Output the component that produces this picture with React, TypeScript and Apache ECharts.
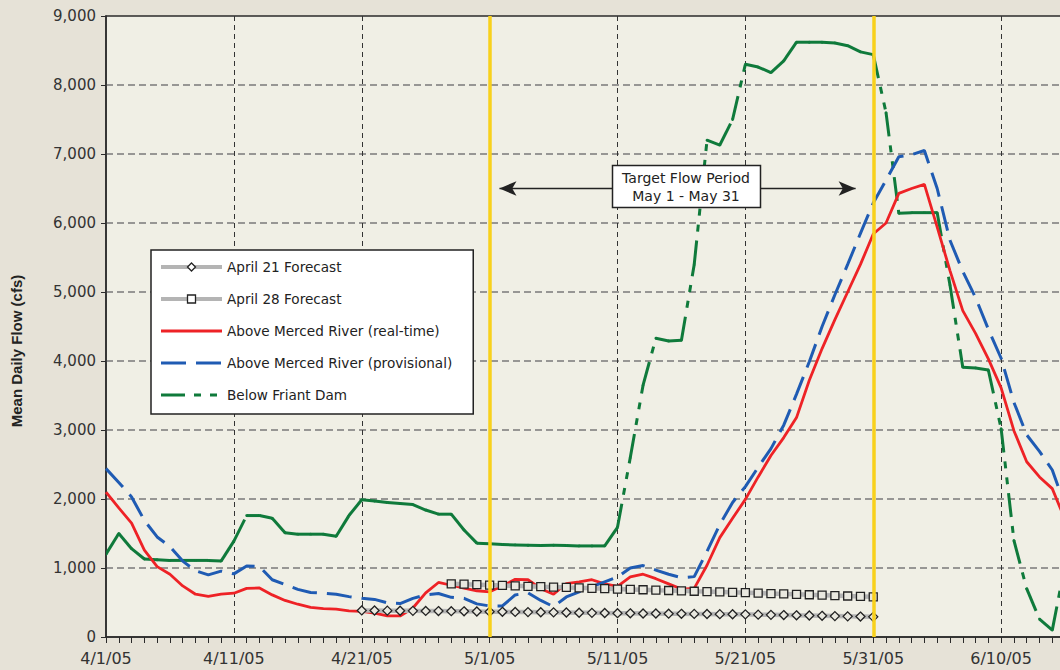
import React, { useEffect, useRef } from 'react';
import * as echarts from 'echarts';

// x positions are days after 4/1/05
const tickLabels = ['4/1/05', '4/11/05', '4/21/05', '5/1/05', '5/11/05', '5/21/05', '5/31/05', '6/10/05'];

const realTime = [
  2100, 1870, 1650, 1260, 1020, 910, 740, 620, 590, 620,
  635, 705, 710, 610, 530, 475, 430, 410, 405, 378,
  370, 345, 305, 305, 420, 640, 790, 750, 710, 670,
  655, 740, 836, 830, 700, 620, 775, 800, 830, 770,
  735, 870, 910, 845, 770, 695, 705, 1040, 1440, 1720,
  1995, 2320, 2630, 2890, 3180, 3720, 4180, 4600, 5000, 5400,
  5840, 6000, 6430, 6500, 6560, 5940, 5310, 4730, 4400, 4030,
  3610, 2990, 2540, 2320, 2150, 1700,
];

const provisional = [
  2440, 2240, 2030, 1690, 1450, 1310, 1100, 960, 900, 955,
  915, 1030, 1020, 830, 760, 690, 645, 635, 620, 585,
  560, 545, 495, 485, 560, 610, 630, 575, 560, 480,
  450, 450, 610, 640, 530, 440, 580, 655, 730, 800,
  870, 1000, 1035, 970, 910, 860, 875, 1240, 1630, 1950,
  2180, 2460, 2730, 3070, 3520, 3990, 4500, 4960, 5400, 5850,
  6290, 6620, 6960, 6990, 7050, 6500, 5750, 5300, 4920, 4460,
  4040, 3400, 2930, 2690, 2420, 1900,
];

const friant = [
  1200, 1500, 1280, 1130, 1120, 1110, 1110, 1110, 1110, 1100,
  1390, 1760, 1760, 1720, 1510, 1490, 1490, 1490, 1460, 1760,
  1990, 1970, 1950, 1935, 1920, 1840, 1780, 1780, 1550, 1360,
  1350, 1340, 1335, 1330, 1325, 1330, 1325, 1320, 1320, 1320,
  1590, 2600, 3650, 4330, 4290, 4300, 5400, 7200, 7130, 7500,
  8300, 8260, 8180, 8350, 8620, 8620, 8620, 8610, 8570, 8480,
  8440, 7600, 6140, 6150, 6150, 6150, 5100, 3910, 3900, 3870,
  3020, 1400, 700, 260, 100, 1050,
];

const april21Start = 20;
const april21 = [
  385, 384, 382, 381, 379, 378, 376, 374, 372, 370,
  367, 365, 363, 361, 359, 357, 355, 352, 350, 348,
  345, 343, 341, 340, 338, 336, 335, 333, 331, 330,
  328, 324, 321, 318, 314, 311, 307, 303, 299, 296, 292,
];

const april28Start = 27;
const april28 = [
  770, 765, 759, 753, 747, 741, 735, 729, 724, 718,
  712, 706, 701, 695, 690, 685, 679, 674, 669, 663,
  658, 653, 647, 642, 636, 630, 624, 618, 612, 606,
  600, 594, 588, 582,
];

const targetStart = 30; // 5/1/05
const targetEnd = 60; // 5/31/05
const targetArrowLevel = 6500;

const names = [
  'April 21 Forecast',
  'April 28 Forecast',
  'Above Merced River (real-time)',
  'Above Merced River (provisional)',
  'Below Friant Dam',
];

const RED = '#ee2226';
const BLUE = '#1f5bb3';
const GREEN = '#0f7a3b';
const GRAY = '#b4b4b4';
const YELLOW = '#f8d11c';
const PLOT_BG = '#f0efe5';
const OUTER_BG = '#e6e2d7';
const FONT = 'DejaVu Sans';
const GREEN_DASH = [24, 9, 7, 9, 7, 9];

export default function App() {
  const ref = useRef<HTMLDivElement>(null);

  useEffect(() => {
    const chart = echarts.init(ref.current as HTMLDivElement, null, { renderer: 'svg' });

    const option: any = {
      animation: false,
      backgroundColor: OUTER_BG,
      grid: {
        left: 106,
        top: 16,
        bottom: 33,
        right: -69,
        outerBoundsMode: 'none',
        containLabel: false,
        show: true,
        backgroundColor: PLOT_BG,
        borderColor: '#2b2b2b',
        borderWidth: 1.5,
      },
      xAxis: {
        type: 'value',
        min: 0,
        max: 80,
        interval: 10,
        axisLine: { show: true, lineStyle: { color: '#2b2b2b', width: 1.5 } },
        axisTick: { show: true, length: 6, lineStyle: { color: '#2b2b2b', width: 1 } },
        minorTick: { show: true, splitNumber: 10, length: 6, lineStyle: { color: '#2b2b2b', width: 1 } },
        axisLabel: {
          fontFamily: FONT,
          fontSize: 16,
          color: '#333',
          margin: 13,
          formatter: (v: number) => tickLabels[Math.round(v / 10)] ?? '',
        },
        splitLine: {
          show: true,
          showMinLine: false,
          lineStyle: { color: '#333', width: 1, type: [5, 4] },
        },
      },
      yAxis: {
        type: 'value',
        min: 0,
        max: 9000,
        interval: 1000,
        axisLine: { show: true, lineStyle: { color: '#2b2b2b', width: 1.5 } },
        axisTick: { show: true, length: 5, lineStyle: { color: '#2b2b2b', width: 1 } },
        axisLabel: {
          fontFamily: FONT,
          fontSize: 15,
          color: '#333',
          margin: 10,
          formatter: (v: number) => v.toLocaleString('en-US'),
        },
        splitLine: {
          show: true,
          showMinLine: false,
          showMaxLine: false,
          lineStyle: { color: '#7a7a7a', width: 1.6, type: [7, 4] },
        },
      },
      legend: {
        data: [
          { name: names[0], itemStyle: { color: '#fff', borderColor: '#222', borderWidth: 1.3 }, lineStyle: { width: 4 } },
          { name: names[1], itemStyle: { color: '#fff', borderColor: '#222', borderWidth: 1.3 }, lineStyle: { width: 4 } },
          { name: names[2], itemStyle: { opacity: 0 }, lineStyle: { width: 3 } },
          { name: names[3], itemStyle: { opacity: 0 }, lineStyle: { width: 3 } },
          { name: names[4], itemStyle: { opacity: 0 }, lineStyle: { width: 3 } },
        ],
        orient: 'vertical',
        left: 151,
        top: 250,
        padding: [10, 21, 12, 8],
        itemGap: 18,
        itemWidth: 61,
        itemHeight: 10,
        backgroundColor: '#fff',
        borderColor: '#222',
        borderWidth: 1.5,
        borderRadius: 0,
        selectedMode: false,
        textStyle: { fontFamily: FONT, fontSize: 13.6, color: '#222' },
      },
      graphic: [
        {
          type: 'text',
          x: 16,
          y: 351,
          rotation: Math.PI / 2,
          style: {
            text: 'Mean Daily Flow (cfs)',
            fontFamily: 'Liberation Sans',
            fontWeight: 'bold',
            fontSize: 15,
            fill: '#222',
            textAlign: 'center',
            textVerticalAlign: 'middle',
          },
        },
        {
          type: 'rect',
          z: 100,
          shape: { x: 612.5, y: 165.5, width: 148, height: 42 },
          style: { fill: '#fff', stroke: '#222', lineWidth: 1.5 },
        },
        {
          type: 'text',
          z: 101,
          x: 686,
          y: 186.5,
          style: {
            text: 'Target Flow Period\nMay 1 - May 31',
            fontFamily: FONT,
            fontSize: 14,
            lineHeight: 18,
            fill: '#222',
            textAlign: 'center',
            textVerticalAlign: 'middle',
          },
        },
      ],
      series: [
        {
          name: '_target',
          type: 'line',
          data: [],
          z: 1,
          silent: true,
          markLine: {
            silent: true,
            symbol: 'none',
            label: { show: false },
            lineStyle: { color: YELLOW, width: 3.5, type: 'solid' },
            data: [{ xAxis: targetStart }, { xAxis: targetEnd }],
          },
        },
        {
          name: '_arrow',
          type: 'line',
          data: [],
          z: 6,
          silent: true,
          markLine: {
            silent: true,
            symbol: ['arrow', 'arrow'],
            label: { show: false },
            lineStyle: { color: '#222', width: 1.3, type: 'solid' },
            data: [
              [
                { coord: [targetStart + 0.77, targetArrowLevel], symbolSize: [11, 17] },
                { coord: [targetEnd - 1.38, targetArrowLevel], symbolSize: [11, 17] },
              ],
            ],
          },
        },
        {
          name: names[2],
          type: 'line',
          z: 3,
          symbol: 'none',
          data: realTime.map((v, i) => [i, v]),
          lineStyle: { color: RED, width: 2.8 },
          itemStyle: { color: RED },
        },
        {
          name: names[3],
          type: 'line',
          z: 3,
          symbol: 'none',
          data: provisional.map((v, i) => [i, v]),
          lineStyle: { color: BLUE, width: 3, type: [25, 10] },
          itemStyle: { color: BLUE },
        },
        {
          name: names[4],
          type: 'line',
          z: 3,
          symbol: 'none',
          data: [],
          lineStyle: { color: GREEN, width: 3, type: GREEN_DASH },
          itemStyle: { color: GREEN },
        },
        {
          name: names[4],
          type: 'custom',
          z: 3,
          clip: true,
          encode: { x: 0, y: 1 },
          data: friant.map((v, i) => [i, v, i + 1 < friant.length ? friant[i + 1] : v]),
          renderItem: (params: any, api: any) => {
            if (params.dataIndex >= friant.length - 1) return null;
            const x = api.value(0);
            const p1 = api.coord([x, api.value(1)]);
            const p2 = api.coord([x + 1, api.value(2)]);
            return {
              type: 'group',
              children: [
                {
                  type: 'line',
                  shape: { x1: p1[0], y1: p1[1], x2: p2[0], y2: p2[1] },
                  style: { stroke: GREEN, lineWidth: 3, lineDash: GREEN_DASH, lineCap: 'butt', fill: null },
                },
                {
                  type: 'circle',
                  shape: { cx: p1[0], cy: p1[1], r: 1.4 },
                  style: { fill: GREEN },
                },
              ],
            };
          },
        },
        {
          name: names[0],
          type: 'line',
          z: 4,
          symbol: 'diamond',
          symbolSize: 9,
          data: april21.map((v, i) => [april21Start + i, v]),
          lineStyle: { color: GRAY, width: 4.5 },
          itemStyle: { color: '#e9e8df', borderColor: '#222', borderWidth: 1.3 },
        },
        {
          name: names[1],
          type: 'line',
          z: 4,
          symbol: 'rect',
          symbolSize: 8,
          data: april28.map((v, i) => [april28Start + i, v]),
          lineStyle: { color: GRAY, width: 4.5 },
          itemStyle: { color: '#e9e8df', borderColor: '#222', borderWidth: 1.3 },
        },
      ],
    };

    chart.setOption(option);
    return () => chart.dispose();
  }, []);

  return <div ref={ref} style={{ position: 'fixed', left: 0, top: 0, width: 1060, height: 670 }} />;
}
